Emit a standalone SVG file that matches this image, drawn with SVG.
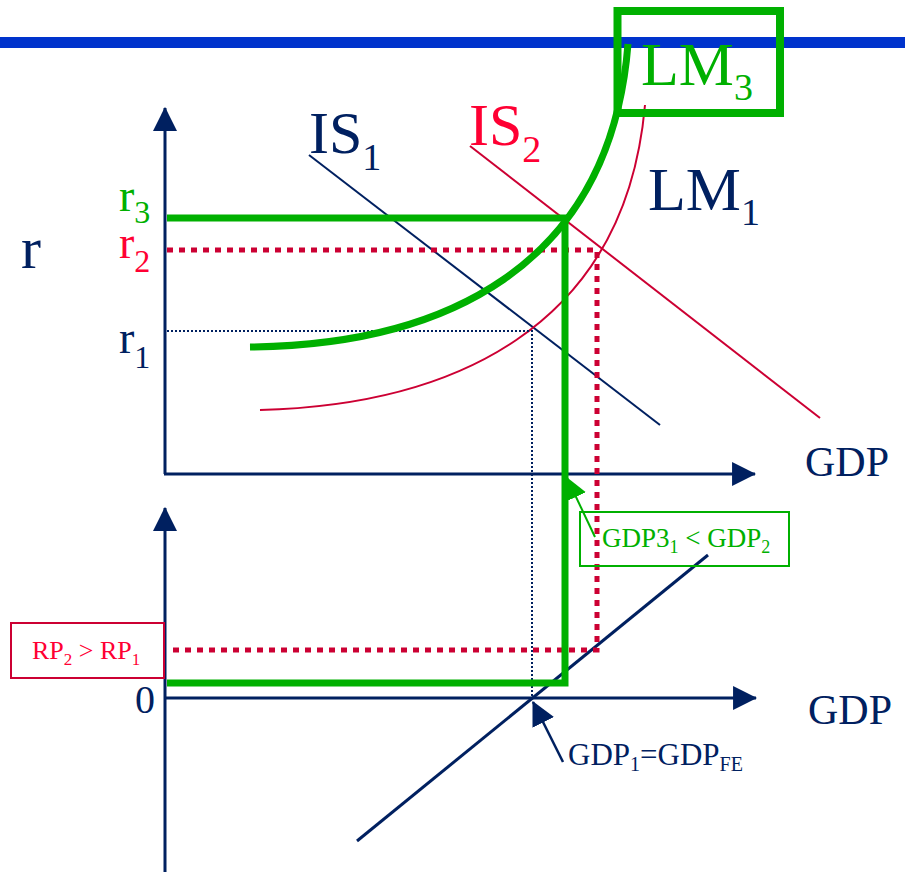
<svg xmlns="http://www.w3.org/2000/svg" width="905" height="872" viewBox="0 0 905 872">
<style>
text{font-family:"Liberation Serif","Times New Roman",serif}
.navy{fill:#002060}.green{fill:#00B000}.red{fill:#FF0033}
.axis{stroke:#002060;stroke-width:3;fill:none}
.thinN{stroke:#002060;stroke-width:2;fill:none}
.thinR{stroke:#CC0033;stroke-width:2;fill:none}
.gthick{stroke:#00B000;stroke-width:7;fill:none}
.rdot{stroke:#CC0033;stroke-width:5;stroke-dasharray:6 6;fill:none}
.ndot{stroke:#002060;stroke-width:2;stroke-dasharray:2 2;fill:none}
</style>
<defs>
<marker id="ah" markerUnits="userSpaceOnUse" markerWidth="24" markerHeight="24" viewBox="0 0 22 22" refX="21" refY="11" orient="auto"><path d="M0,0 L22,11 L0,22 Z" fill="#002060"/></marker>
<marker id="ahg" markerUnits="userSpaceOnUse" markerWidth="22" markerHeight="22" viewBox="0 0 20 20" refX="19" refY="10" orient="auto"><path d="M0,0 L20,10 L0,20 Z" fill="#00B000"/></marker>
</defs>
<rect x="0" y="37" width="905" height="11" fill="#0033CC"/>
<g id="axes">
<line class="axis" x1="165" y1="474" x2="165" y2="108" marker-end="url(#ah)"/>
<line class="axis" x1="164" y1="474" x2="755" y2="474" marker-end="url(#ah)"/>
<line class="axis" x1="165" y1="872" x2="165" y2="508" marker-end="url(#ah)"/>
<line class="axis" x1="164" y1="698" x2="756" y2="698" marker-end="url(#ah)"/>
</g>
<g id="connectors">
<line class="thinN" x1="309" y1="155" x2="660" y2="425"/>
<line class="thinR" x1="470" y1="146" x2="820" y2="418"/>
<path class="thinR" d="M260,410 C450,405 625,330 645,105"/>
<line class="axis" x1="357" y1="841" x2="708" y2="555"/>
<polyline class="ndot" points="167,331 532,331 532,697"/>
<polyline class="rdot" points="167,250 597,250 597,650 167,650"/>
<path class="gthick" d="M250,347 C440,345 610,270 628,44"/>
<polyline class="gthick" points="167,218 565,218 565,683 167,683"/>
<line stroke="#00B000" stroke-width="2" x1="595" y1="537" x2="567" y2="478" marker-end="url(#ahg)"/>
<line stroke="#002060" stroke-width="2.5" x1="563" y1="762" x2="533" y2="702" marker-end="url(#ah)"/>
</g>
<g id="lm3"><rect x="617.5" y="11" width="162.5" height="102" fill="none" stroke="#00B000" stroke-width="8"/>
<text x="641" y="85" font-size="62" class="green">LM<tspan font-size="38" dy="15">3</tspan></text></g>
<g id="is1"><text x="309" y="153" font-size="60" class="navy">IS<tspan font-size="38" dy="17">1</tspan></text></g>
<g id="is2"><text x="469" y="145" font-size="60" class="red">IS<tspan font-size="38" dy="17">2</tspan></text></g>
<g id="lm1"><text x="648" y="210" font-size="62" class="navy">LM<tspan font-size="38" dy="15">1</tspan></text></g>
<g id="r"><text x="21" y="268" font-size="60" class="navy">r</text></g>
<g id="r3"><text x="119" y="211" font-size="46" class="green">r<tspan font-size="32" dy="12">3</tspan></text></g>
<g id="r2"><text x="119" y="258" font-size="46" class="red">r<tspan font-size="32" dy="14">2</tspan></text></g>
<g id="r1"><text x="119" y="353" font-size="46" class="navy">r<tspan font-size="32" dy="15">1</tspan></text></g>
<g id="gdp-upper"><text x="805" y="476" font-size="42" class="navy">GDP</text></g>
<g id="gdp-lower"><text x="808" y="724" font-size="42" class="navy">GDP</text></g>
<g id="zero"><text x="135" y="713" font-size="40" class="navy">0</text></g>
<g id="rp"><rect x="11" y="623" width="153" height="55" fill="none" stroke="#CC0033" stroke-width="2"/>
<text x="32" y="659" font-size="26" class="red">RP<tspan font-size="17" dy="6">2</tspan><tspan dy="-6"> &gt; RP</tspan><tspan font-size="17" dy="6">1</tspan></text></g>
<g id="gdp3"><rect x="580" y="512" width="209" height="54" fill="none" stroke="#00B000" stroke-width="2"/>
<text x="602" y="547" font-size="27" class="green">GDP3<tspan font-size="18" dy="6">1</tspan><tspan dy="-6"> &lt; GDP</tspan><tspan font-size="18" dy="6">2</tspan></text></g>
<g id="gdpfe"><text x="568" y="765" font-size="31" class="navy">GDP<tspan font-size="20" dy="6">1</tspan><tspan dy="-6">=GDP</tspan><tspan font-size="20" dy="6">FE</tspan></text></g>
</svg>
